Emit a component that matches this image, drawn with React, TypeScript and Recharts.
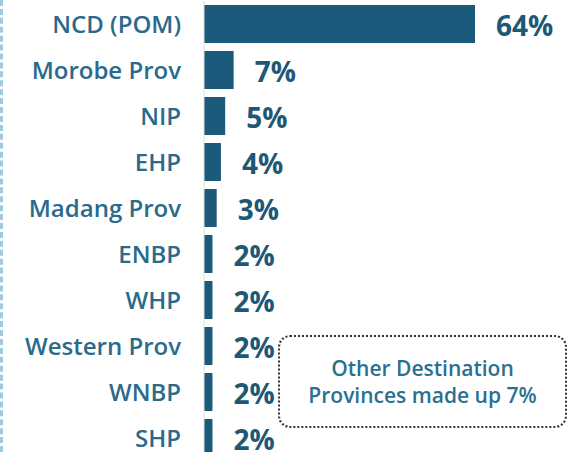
import { BarChart, Bar, XAxis, YAxis, LabelList } from "recharts"

const provinces = [
  "NCD (POM)",
  "Morobe Prov",
  "NIP",
  "EHP",
  "Madang Prov",
  "ENBP",
  "WHP",
  "Western Prov",
  "WNBP",
  "SHP",
]
const shares = [64, 7, 5, 4, 3, 2, 2, 2, 2, 2]
const noteLines = ["Other Destination", "Provinces made up 7%"]

const data = provinces.map((name, i) => ({ name, share: shares[i] }))

const FONT = "'Open Sans', sans-serif"

export default function App() {
  return (
    <div
      style={{
        position: "absolute",
        left: 0,
        top: 0,
        width: 569,
        height: 452,
        overflow: "hidden",
        background: "#fff",
        fontFamily: FONT,
      }}
    >
      <div
        style={{
          position: "absolute",
          left: 0,
          top: 0,
          width: 0,
          height: 452,
          borderLeft: "3px dashed #9ccbe0",
        }}
      />
      <BarChart
        width={569}
        height={461}
        data={data}
        layout="vertical"
        margin={{ top: 1, right: 94, bottom: 0, left: 0 }}
        barSize={38}
      >
        <XAxis type="number" domain={[0, 64]} hide />
        <YAxis
          type="category"
          dataKey="name"
          width={204}
          tickSize={0}
          tickMargin={23}
          axisLine={{ stroke: "#dcdcdc" }}
          tickLine={false}
          tick={{ fill: "#2a6b8c", fontSize: 24, fontWeight: 600, fontFamily: FONT }}
        />
        <Bar dataKey="share" fill="#1b5a7a" isAnimationActive={false}>
          <LabelList
            dataKey="share"
            content={(props: any) => (
              <text
                x={props.x + props.width + 21}
                y={props.y + props.height / 2 + 1}
                dominantBaseline="central"
                fill="#1d5876"
                fontSize={28}
                fontWeight={700}
                fontFamily={FONT}
              >
                {`${props.value}%`}
              </text>
            )}
          />
        </Bar>
      </BarChart>
      <div
        style={{
          position: "absolute",
          left: 278,
          top: 335,
          width: 285,
          height: 89,
          border: "2px dotted #333",
          borderRadius: 12,
          display: "flex",
          flexDirection: "column",
          justifyContent: "center",
          alignItems: "center",
          color: "#2a7090",
          fontSize: 21,
          fontWeight: 600,
          lineHeight: "27px",
        }}
      >
        {noteLines.map((t) => (
          <div key={t}>{t}</div>
        ))}
      </div>
    </div>
  )
}
